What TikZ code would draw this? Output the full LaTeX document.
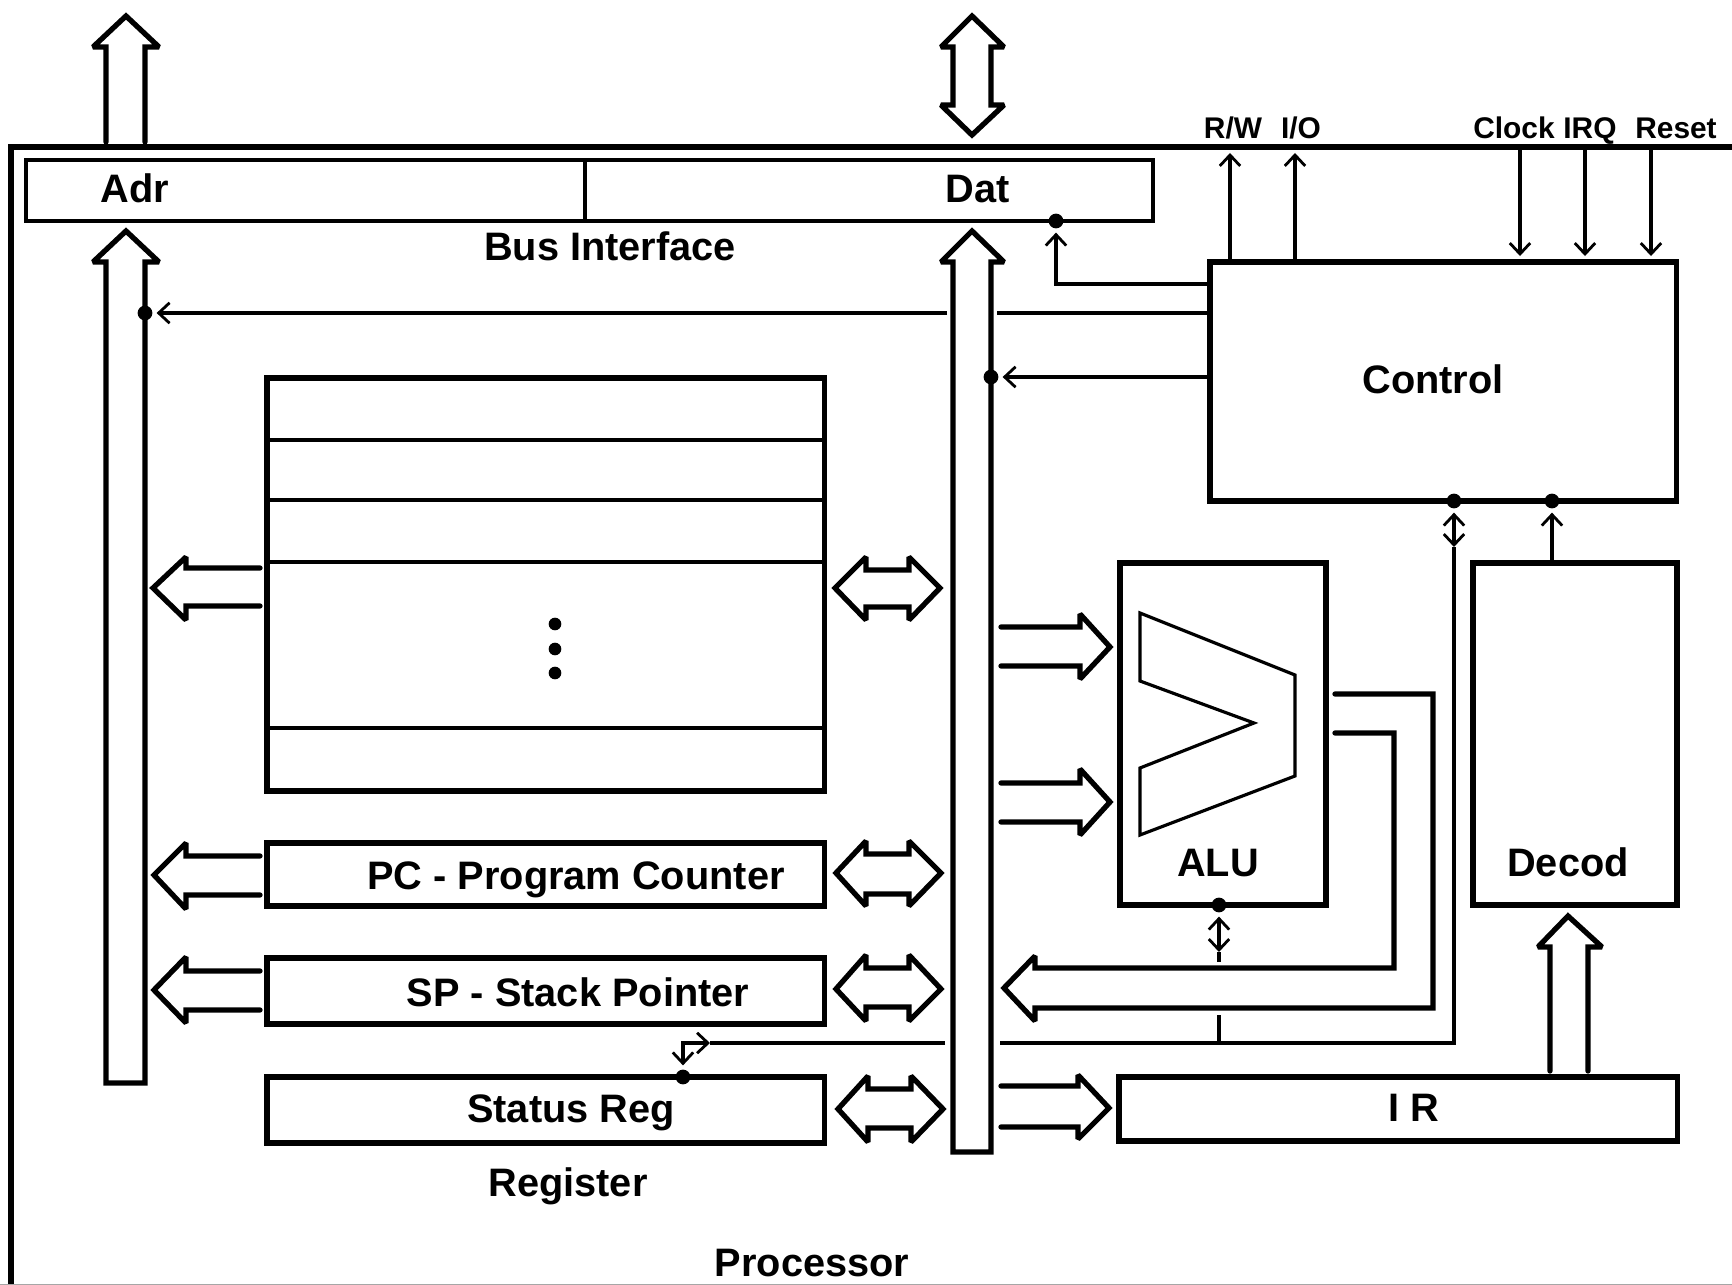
\documentclass[tikz,border=0pt]{standalone}
\usepackage{fontspec}
\setmainfont{Liberation Sans}
\usetikzlibrary{arrows.meta}

\begin{document}
\begin{tikzpicture}[x=0.01cm,y=-0.01cm,
  >={Straight Barb[length=3.1pt,width=5.8pt,line width=0.8pt]},
  box/.style={draw,line width=1.56pt,inner sep=0pt,outer sep=0pt,anchor=north west},
  thinbox/.style={box,line width=1.1pt},
  sig/.style={line width=1.1pt},
  fat/.style={line width=1.5pt,line join=miter,miter limit=1.5,line cap=round},
  jdot/.style={circle,fill,inner sep=0pt,minimum size=4.2pt},
  lbl/.style={font=\fontsize{11.3pt}{13pt}\selectfont\bfseries,inner sep=0pt,text height=8pt,text depth=0pt},
  small/.style={font=\fontsize{8.5pt}{10pt}\selectfont\bfseries,inner sep=0pt,text height=6pt,text depth=0pt}]
\useasboundingbox (0,0) rectangle (1732,1285);
\draw[line width=1.7pt] (1732,147) -- (11,147) -- (11,1285);
\draw[gray!70,line width=0.4pt] (0,1284.5) -- (1732,1284.5);
\node[thinbox,minimum width=11.26cm,minimum height=0.61cm] (bus) at (26,160) {};
\node[box,minimum width=4.66cm,minimum height=2.39cm] (control) at (1210,262) {};
\node[box,minimum width=2.06cm,minimum height=3.42cm] (alu) at (1120,563) {};
\node[box,minimum width=2.04cm,minimum height=3.42cm] (decod) at (1473,563) {};
\node[box,minimum width=5.58cm,minimum height=0.64cm] (ir) at (1119,1077) {};
\node[box,minimum width=5.57cm,minimum height=4.13cm] (regs) at (267,378) {};
\node[box,minimum width=5.57cm,minimum height=0.63cm] (pc) at (267,843) {};
\node[box,minimum width=5.57cm,minimum height=0.66cm] (sp) at (267,958) {};
\node[box,minimum width=5.57cm,minimum height=0.66cm] (status) at (267,1077) {};
\node[lbl] (adrtext) at (135,188) {Adr};
\node[lbl] (dattext) at (978,188) {Dat};
\node[lbl] (bustext) at (610,246) {Bus Interface};
\node[lbl] (controltext) at (1433,379) {Control};
\node[lbl] (alutext) at (1218,862) {ALU};
\node[lbl] (decodtext) at (1568,862) {Decod};
\node[lbl] (irtext) at (1414,1107) {I R};
\node[lbl] (pctext) at (576,875) {PC - Program Counter};
\node[lbl] (sptext) at (578,992) {SP - Stack Pointer};
\node[lbl] (statustext) at (571,1108) {Status Reg};
\node[lbl] (regtext) at (568,1182) {Register};
\node[lbl] (proctext) at (812,1262) {Processor};
\node[small] (rwtext) at (1233,128) {R/W};
\node[small] (iotext) at (1301,128) {I/O};
\node[small] (clocktext) at (1514,128) {Clock};
\node[small] (irqtext) at (1590,128) {IRQ};
\node[small] (resettext) at (1676,128) {Reset};
\node[jdot] (adrdot) at (145,313) {};
\node[jdot] (busdot) at (1056,221) {};
\node[jdot] (datdot) at (991,377) {};
\node[jdot] (ctldot) at (1454,501) {};
\node[jdot] (decdot) at (1552,501) {};
\node[jdot] (aludot) at (1219,905) {};
\node[jdot] (statdot) at (683,1077) {};
\node[jdot,minimum size=3.6pt] (dotone) at (555,624) {};
\node[jdot,minimum size=3.6pt] (dottwo) at (555,649) {};
\node[jdot,minimum size=3.6pt] (dotthree) at (555,673) {};
\coordinate (rwout) at (1230,153);
\coordinate (ioout) at (1295,153);
\coordinate (clockin) at (1520,150);
\coordinate (irqin) at (1585,150);
\coordinate (resetin) at (1651,150);
\coordinate (buscorner) at (1056,284);
\coordinate (gapright) at (997,313);
\coordinate (gapleft) at (947,313);
\coordinate (ctldown) at (1454,547);
\coordinate (ctlcorner) at (1454,1043);
\coordinate (flagright) at (1000,1043);
\coordinate (flagleft) at (945,1043);
\coordinate (flagtip) at (710,1043);
\coordinate (flagcorner) at (683,1043);
\coordinate (aludown) at (1219,952);
\coordinate (alustub) at (1219,962);
\coordinate (alulow) at (1219,1015);
\coordinate (alubase) at (1219,1043);
\draw[thinbox] (bus.north -| 585,0) -- (bus.south -| 585,0);
\draw[sig] (regs.west |- 0,440) -- (regs.east |- 0,440);
\draw[sig] (regs.west |- 0,500) -- (regs.east |- 0,500);
\draw[sig] (regs.west |- 0,562) -- (regs.east |- 0,562);
\draw[sig] (regs.west |- 0,728) -- (regs.east |- 0,728);
\draw[sig,->] (control.north -| rwout) -- (rwout);
\draw[sig,->] (control.north -| ioout) -- (ioout);
\draw[sig,->,shorten >=1.7pt] (clockin) -- (control.north -| clockin);
\draw[sig,->,shorten >=1.7pt] (irqin) -- (control.north -| irqin);
\draw[sig,->,shorten >=1.7pt] (resetin) -- (control.north -| resetin);
\draw[sig,->,shorten >=1pt] (control.west |- buscorner) -- (buscorner) -- (busdot);
\draw[sig] (control.west |- gapright) -- (gapright);
\draw[sig,->,shorten >=1pt] (gapleft) -- (adrdot);
\draw[sig,->,shorten >=1pt] (control.west |- datdot) -- (datdot);
\draw[sig,<->,shorten <=1pt] (ctldot) -- (ctldown);
\draw[sig] (ctldown) -- (ctlcorner) -- (flagright);
\draw[sig,->,shorten >=1pt] (decod.north -| decdot) -- (decdot);
\draw[sig,<->,shorten <=1pt] (aludot) -- (aludown);
\draw[sig] (aludown) -- (alustub);
\draw[sig] (alulow) -- (alubase);
\draw[sig] (flagleft) -- (flagtip);
\draw[sig,<->,shorten >=1pt] (flagtip) -- (flagcorner) -- (statdot);
\draw[line width=0.9pt,line join=miter] (1140,613) -- (1295,675) -- (1295,776) -- (1140,835) -- (1140,768) -- (1254,723) -- (1140,681) -- cycle;
\draw[fat] (106,142) -- (106,47) -- (93,47) -- (126,16) -- (159,47) -- (145,47) -- (145,142);
\draw[fat] (953,47) -- (941,47) -- (972,16) -- (1004,47) -- (991,47) -- (991,105) -- (1004,105) -- (972,135) -- (941,105) -- (953,105) -- cycle;
\draw[fat] (106,1083) -- (106,262) -- (93,262) -- (126,231) -- (159,262) -- (145,262) -- (145,1083) -- cycle;
\draw[fat] (953,1152) -- (953,262) -- (941,262) -- (972,231) -- (1004,262) -- (991,262) -- (991,1152) -- cycle;
\draw[fat] (260,568) -- (186,568) -- (186,557) -- (153,588) -- (186,620) -- (186,606) -- (260,606);
\draw[fat] (260,856) -- (186,856) -- (186,843) -- (154,875) -- (186,909) -- (186,895) -- (260,895);
\draw[fat] (260,971) -- (186,971) -- (186,957) -- (154,990) -- (186,1023) -- (186,1010) -- (260,1010);
\draw[fat] (866,570) -- (909,570) -- (909,557) -- (940,588) -- (909,620) -- (909,607) -- (866,607) -- (866,620) -- (835,588) -- (866,557) -- cycle;
\draw[fat] (866,854) -- (909,854) -- (909,841) -- (941,873) -- (909,906) -- (909,894) -- (866,894) -- (866,906) -- (836,873) -- (866,841) -- cycle;
\draw[fat] (866,968) -- (909,968) -- (909,955) -- (941,989) -- (909,1021) -- (909,1007) -- (866,1007) -- (866,1021) -- (836,989) -- (866,955) -- cycle;
\draw[fat] (868,1089) -- (911,1089) -- (911,1076) -- (943,1109) -- (911,1142) -- (911,1128) -- (868,1128) -- (868,1142) -- (838,1109) -- (868,1076) -- cycle;
\draw[fat] (1001,627) -- (1080,627) -- (1080,614) -- (1110,647) -- (1080,679) -- (1080,666) -- (1001,666);
\draw[fat] (1001,783) -- (1080,783) -- (1080,769) -- (1110,802) -- (1080,835) -- (1080,822) -- (1001,822);
\draw[fat] (1001,1086) -- (1078,1086) -- (1078,1075) -- (1109,1108) -- (1078,1139) -- (1078,1127) -- (1001,1127);
\draw[fat] (1335,694) -- (1433,694) -- (1433,1008) -- (1035,1008) -- (1035,1021) -- (1004,988) -- (1035,956) -- (1035,968) -- (1394,968) -- (1394,733) -- (1335,733);
\draw[fat] (1550,1071) -- (1550,947) -- (1538,947) -- (1568,916) -- (1602,947) -- (1588,947) -- (1588,1071);
\end{tikzpicture}
\end{document}
